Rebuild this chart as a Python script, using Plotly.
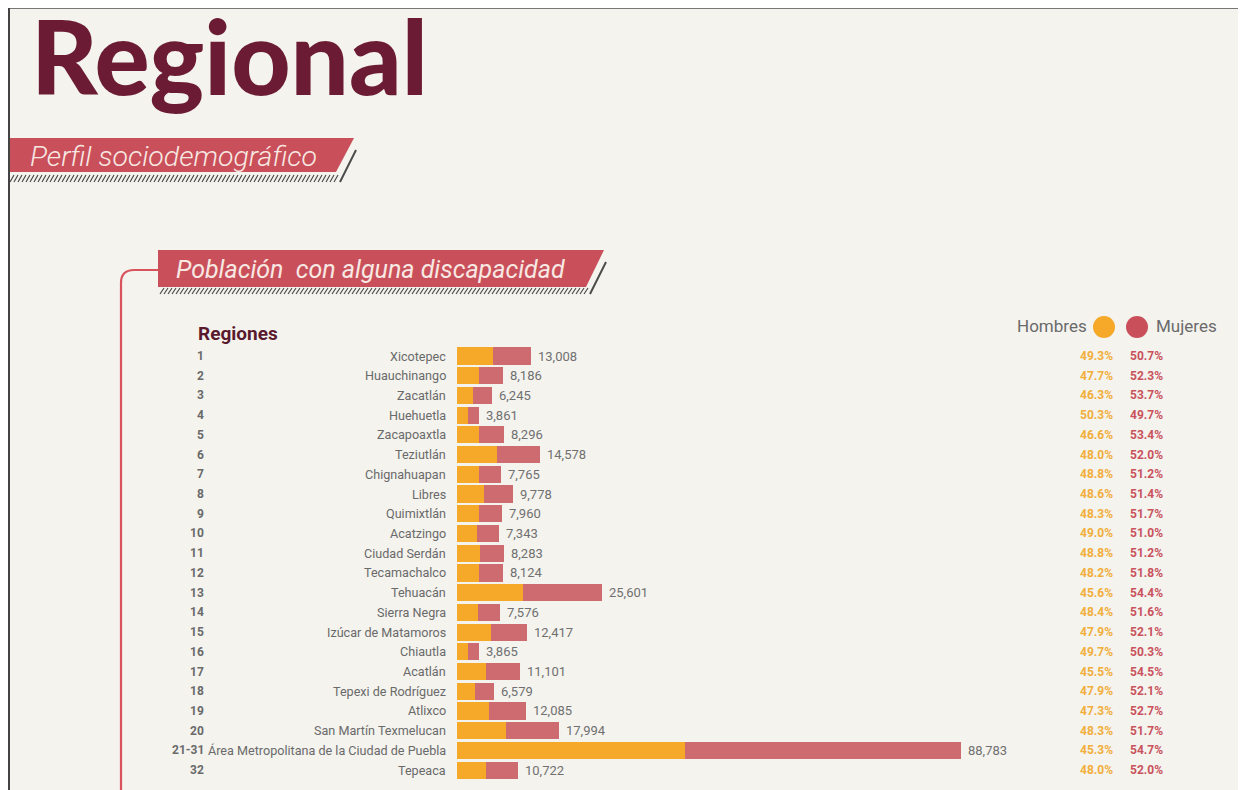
import plotly.graph_objects as go

# ---------------- data ----------------
region_nums = ["1", "2", "3", "4", "5", "6", "7", "8", "9", "10", "11", "12",
               "13", "14", "15", "16", "17", "18", "19", "20", "21-31", "32"]
region_names = ["Xicotepec", "Huauchinango", "Zacatlán", "Huehuetla", "Zacapoaxtla",
                "Teziutlán", "Chignahuapan", "Libres", "Quimixtlán", "Acatzingo",
                "Ciudad Serdán", "Tecamachalco", "Tehuacán", "Sierra Negra",
                "Izúcar de Matamoros", "Chiautla", "Acatlán", "Tepexi de Rodríguez",
                "Atlixco", "San Martín Texmelucan",
                "Área Metropolitana de la Ciudad de Puebla", "Tepeaca"]
totals = [13008, 8186, 6245, 3861, 8296, 14578, 7765, 9778, 7960, 7343, 8283, 8124,
          25601, 7576, 12417, 3865, 11101, 6579, 12085, 17994, 88783, 10722]
pct_hombres = [49.3, 47.7, 46.3, 50.3, 46.6, 48.0, 48.8, 48.6, 48.3, 49.0, 48.8, 48.2,
               45.6, 48.4, 47.9, 49.7, 45.5, 47.9, 47.3, 48.3, 45.3, 48.0]
pct_mujeres = [50.7, 52.3, 53.7, 49.7, 53.4, 52.0, 51.2, 51.4, 51.7, 51.0, 51.2, 51.8,
               54.4, 51.6, 52.1, 50.3, 54.5, 52.1, 52.7, 51.7, 54.7, 52.0]

hombres = [t * p / 100 for t, p in zip(totals, pct_hombres)]
mujeres = [t - h for t, h in zip(totals, hombres)]
idx = list(range(len(totals)))

# ---------------- layout geometry ----------------
W, H = 1246, 790
OX, OY = 8, 8           # page offset of the figure origin
Y0, STEP = 356.0, 19.72  # page y of first row and row spacing
BAR_X0 = 457
PX_PER_UNIT = 504 / 88783

def px(x):
    return (x - OX) / W

def py(y):
    return 1 - (y - OY) / H

BG = "#F4F3EE"
ORANGE = "#F6A829"
RED = "#CE6B71"
RIBBON = "#C9505A"
MAROON = "#6B1C34"
GRAY = "#6A6A6A"

xmax = (W + OX - BAR_X0) / PX_PER_UNIT
v_top = (OY - Y0) / STEP
v_bot = (OY + H - Y0) / STEP

fig = go.Figure()
fig.add_trace(go.Bar(y=idx, x=hombres, orientation="h", marker_color=ORANGE,
                     marker_line_width=0, width=0.87, name="Hombres",
                     hoverinfo="skip"))
fig.add_trace(go.Bar(y=idx, x=mujeres, orientation="h", marker_color=RED,
                     marker_line_width=0, width=0.87, name="Mujeres",
                     hoverinfo="skip"))

ann = []
for i in idx:
    ann.append(dict(x=totals[i], y=i, xref="x", yref="y", text=f"{totals[i]:,}",
                    xanchor="left", yanchor="middle", xshift=5, showarrow=False,
                    font=dict(family="Roboto", size=13, color="#707070")))
    ann.append(dict(x=px(448), y=i, xref="paper", yref="y", text=region_names[i],
                    xanchor="right", yanchor="middle", showarrow=False,
                    font=dict(family="Roboto", size=12.6, color=GRAY)))
    ann.append(dict(x=px(206), y=i, xref="paper", yref="y", text=region_nums[i],
                    xanchor="right", yanchor="middle", showarrow=False,
                    font=dict(family="Roboto", size=12, color=GRAY, weight="bold")))
    ann.append(dict(x=px(1115), y=i, xref="paper", yref="y", text=f"{pct_hombres[i]:.1f}%",
                    xanchor="right", yanchor="middle", showarrow=False,
                    font=dict(family="Roboto", size=12, color="#F2AE3A", weight="bold")))
    ann.append(dict(x=px(1128), y=i, xref="paper", yref="y", text=f"{pct_mujeres[i]:.1f}%",
                    xanchor="left", yanchor="middle", showarrow=False,
                    font=dict(family="Roboto", size=12, color="#C9525C", weight="bold")))

# titles & headers
ann.append(dict(x=px(30), y=py(96), xref="paper", yref="paper", text="Regional",
                xanchor="left", yanchor="bottom", yshift=-22, showarrow=False,
                borderpad=0,
                font=dict(family="Lato", size=103, color=MAROON, weight=900)))
ann.append(dict(x=px(28), y=py(156), xref="paper", yref="paper",
                text="<i>Perfil sociodemográfico</i>", xanchor="left", yanchor="middle",
                showarrow=False, font=dict(family="Roboto", size=28.5, color="#F8E8E3", weight=300)))
ann.append(dict(x=px(174), y=py(269), xref="paper", yref="paper",
                text="<i>Población  con alguna discapacidad</i>", xanchor="left",
                yanchor="middle", showarrow=False,
                font=dict(family="Roboto", size=25, color="#F8E8E3")))
ann.append(dict(x=px(196), y=py(333), xref="paper", yref="paper", text="<b>Regiones</b>",
                xanchor="left", yanchor="middle", showarrow=False,
                font=dict(family="Roboto", size=19, color="#5A1A2E")))
ann.append(dict(x=px(1089), y=py(326), xref="paper", yref="paper", text="Hombres",
                xanchor="right", yanchor="middle", showarrow=False,
                font=dict(family="Roboto", size=17, color=GRAY)))
ann.append(dict(x=px(1154), y=py(326), xref="paper", yref="paper", text="Mujeres",
                xanchor="left", yanchor="middle", showarrow=False,
                font=dict(family="Roboto", size=17, color=GRAY)))

def P(x, y):
    return f"{px(x)},{py(y)}"

def hatch(x0, x1, y0, y1, step=4.0, slant=4.0):
    parts = []
    x = x0
    while x < x1:
        parts.append(f"M{P(x, y1)} L{P(x + slant, y0)}")
        x += step
    return " ".join(parts)

shapes = []
# page frame lines
shapes.append(dict(type="line", xref="paper", yref="paper", x0=px(8), x1=1, y0=py(8), y1=py(8),
                   line=dict(color="#777777", width=2)))
shapes.append(dict(type="line", xref="paper", yref="paper", x0=px(9), x1=px(9), y0=py(8), y1=0,
                   line=dict(color="#444444", width=2)))
# ribbon 1
shapes.append(dict(type="path", xref="paper", yref="paper",
                   path=f"M{P(10,138)} L{P(354,138)} L{P(336,172)} L{P(10,172)} Z",
                   fillcolor=RIBBON, line=dict(width=0)))
shapes.append(dict(type="path", xref="paper", yref="paper",
                   path=hatch(10, 338, 175, 182), line=dict(color="#4A4A4A", width=1.2)))
shapes.append(dict(type="path", xref="paper", yref="paper",
                   path=f"M{P(356,150)} L{P(340,182)}", line=dict(color="#4A4A4A", width=2)))
# ribbon 2
shapes.append(dict(type="path", xref="paper", yref="paper",
                   path=f"M{P(158,250)} L{P(604,250)} L{P(586,287)} L{P(158,287)} Z",
                   fillcolor=RIBBON, line=dict(width=0)))
shapes.append(dict(type="path", xref="paper", yref="paper",
                   path=hatch(160, 588, 288, 294), line=dict(color="#4A4A4A", width=1.2)))
shapes.append(dict(type="path", xref="paper", yref="paper",
                   path=f"M{P(606,262)} L{P(590,294)}", line=dict(color="#4A4A4A", width=2)))
# connector line
shapes.append(dict(type="path", xref="paper", yref="paper",
                   path=f"M{P(158,270)} L{P(134,270)} Q{P(121,270)} {P(121,283)} L{P(121,800)}",
                   line=dict(color="#D9535D", width=2.2)))
# legend dots
shapes.append(dict(type="circle", xref="paper", yref="paper",
                   x0=px(1093), x1=px(1115), y0=py(316), y1=py(338),
                   fillcolor="#F6A829", line=dict(width=0)))
shapes.append(dict(type="circle", xref="paper", yref="paper",
                   x0=px(1126), x1=px(1148), y0=py(316), y1=py(338),
                   fillcolor="#C9505A", line=dict(width=0)))

fig.update_layout(
    width=W, height=H, margin=dict(l=0, r=0, t=0, b=0),
    paper_bgcolor=BG, plot_bgcolor="rgba(0,0,0,0)",
    barmode="stack", showlegend=False, bargap=0,
    xaxis=dict(domain=[px(BAR_X0), 1], range=[0, xmax], visible=False, fixedrange=True),
    yaxis=dict(domain=[0, 1], range=[v_bot, v_top], visible=False, fixedrange=True),
    annotations=ann, shapes=shapes,
)

fig.write_html("out.html")
